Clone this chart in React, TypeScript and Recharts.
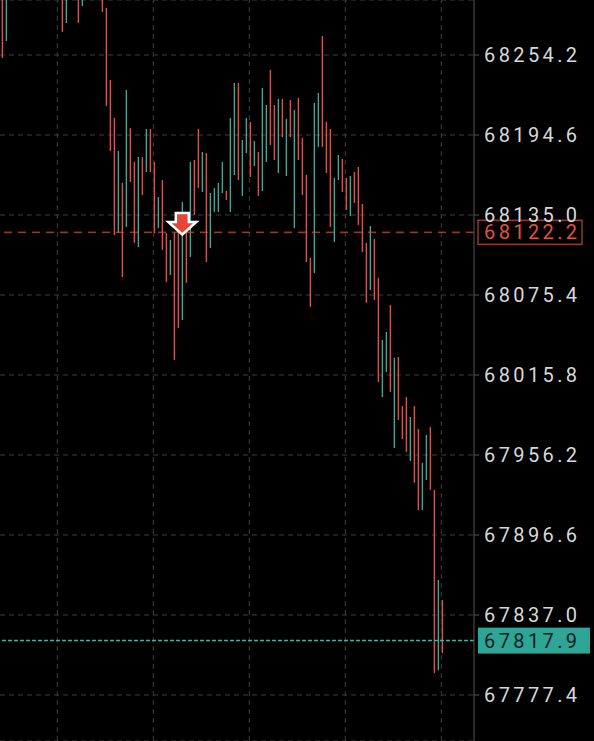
import React from 'react';
import { ComposedChart, Bar, XAxis, YAxis, CartesianGrid, ReferenceLine, ReferenceDot } from 'recharts';

// Candle high / low values and direction (1 = up/teal, 0 = down/red)
const highs = [
  68306.4, 68302.6, 68338, 68345, 68352, 68340, 68330, 68336, 68348, 68350,
  68342, 68334, 68326, 68329, 68337, 68318, 68310, 68326, 68322, 68315,
  68312, 68325, 68330, 68328, 68320, 68318, 68289.2, 68235.6, 68207.3, 68182.7,
  68158.9, 68228.2, 68199.8, 68174.5, 68178.2, 68178.2, 68199.1, 68199.1, 68174.5, 68148.4,
  68161.1, 68121.6, 68116.4, 68121.6, 68121.6, 68144.7, 68121.6, 68174.5, 68176.0, 68199.1,
  68182.0, 68181.2, 68151.4, 68155.1, 68158.9, 68174.5, 68152.9, 68207.3, 68233.4, 68233.4,
  68190.9, 68207.3, 68204.3, 68190.2, 68182.0, 68229.6, 68217.0, 68243.1, 68217.0, 68221.4,
  68221.4, 68206.6, 68220.7, 68213.2, 68222.2, 68192.4, 68164.8, 68103.0, 68218.5, 68225.9,
  68268.4, 68204.3, 68199.1, 68162.6, 68179.7, 68176.8, 68162.6, 68164.1, 68167.1, 68170.8,
  68143.2, 68114.2, 68126.8, 68117.1, 68088.1, 68041.9, 68047.9, 68068.0, 68028.5, 68029.2,
  67992.7, 67999.4, 67984.5, 67992.7, 67975.6, 67950.3, 67971.1, 67977.1, 67930.2, 67863.1,
  67848.2,
];
const lows = [
  68252.0, 68264.7, 68312, 68318, 68322, 68310, 68305, 68308, 68315, 68320,
  68316, 68306, 68301, 68303, 68309, 68271.4, 68278.1, 68302, 68300, 68278.1,
  68290.7, 68303, 68306, 68304, 68301, 68286.3, 68216.2, 68182.7, 68120.1, 68121.6,
  68088.8, 68126.1, 68159.6, 68114.2, 68111.2, 68149.9, 68167.0, 68167.0, 68121.6, 68125.3,
  68109.0, 68085.1, 68090.3, 68027.0, 68050.8, 68056.8, 68084.4, 68103.7, 68135.0, 68155.2,
  68152.2, 68100.0, 68110.4, 68137.3, 68137.3, 68151.4, 68146.2, 68137.3, 68164.8, 68161.1,
  68149.2, 68181.2, 68163.3, 68171.5, 68149.2, 68152.9, 68174.5, 68187.2, 68176.0, 68166.3,
  68193.1, 68164.1, 68193.1, 68125.3, 68176.0, 68149.9, 68100.0, 68066.5, 68091.8, 68185.7,
  68185.7, 68166.3, 68126.1, 68114.9, 68161.1, 68152.2, 68138.8, 68134.3, 68143.9, 68127.6,
  68107.5, 68069.5, 68079.2, 68071.7, 68010.6, 67999.4, 68018.1, 68003.2, 67961.4, 67982.3,
  67968.1, 67958.5, 67951.8, 67935.4, 67915.2, 67915.2, 67937.6, 67930.2, 67793.8, 67796.0,
  67808.7,
];
const upFlags = [
  0, 1, 1, 0, 1, 0, 0, 1, 1, 0,
  1, 0, 0, 1, 0, 0, 1, 0, 1, 0,
  1, 0, 1, 0, 1, 0, 0, 0, 0, 1,
  0, 1, 0, 0, 1, 0, 1, 0, 0, 1,
  0, 0, 1, 0, 0, 1, 0, 1, 0, 0,
  1, 0, 1, 1, 1, 1, 0, 1, 1, 0,
  1, 1, 0, 1, 0, 1, 1, 0, 0, 1,
  0, 1, 0, 1, 0, 0, 0, 0, 1, 1,
  0, 0, 0, 1, 1, 0, 0, 1, 0, 0,
  0, 0, 1, 0, 0, 1, 1, 0, 1, 0,
  0, 0, 1, 0, 0, 1, 1, 0, 0, 1,
  0,
];

const yTicks = [67777.4, 67837.0, 67896.6, 67956.2, 68015.8, 68075.4, 68135.0, 68194.6, 68254.2];
const timeGridIndices = [13.75, 37.75, 61.75, 85.75, 109.75];
const markPrice = 68122.2;
const lastPrice = 67817.9;
const signalIndex = 45;
const signalPrice = 68120.1;

const yDomain: [number, number] = [67743.1, 68295.2];
const xDomain: [number, number] = [-0.575, 117.925];

const UP = '#55b5a6';
const DOWN = '#e2635d';
const GRID = '#3e3e3e';
const FONT = 'Roboto, "DejaVu Sans", sans-serif';
const FS = 20;
const LS = 3.4;

const data = highs.map((h, i) => ({ i, range: [lows[i], h], up: upFlags[i] === 1 }));

function CandleShape(props: any) {
  const { x, y, width, height, payload } = props;
  if (x == null || y == null || !payload) return null;
  const cx = x + width / 2;
  const top = Math.min(y, y + height);
  const h = Math.max(Math.abs(height), 1);
  return <rect x={cx - 0.6} y={top} width={1.2} height={h} fill={payload.up ? UP : DOWN} />;
}

function YTick(props: any) {
  const { x, y, payload } = props;
  return (
    <text x={x} y={y} dy="0.36em" fill="#d8d8d8" fontSize={FS} fontFamily={FONT} letterSpacing={LS} textAnchor="start">
      {Number(payload.value).toFixed(1)}
    </text>
  );
}

function PriceTag(props: any) {
  const { viewBox, text, kind } = props;
  if (!viewBox) return null;
  const left = viewBox.x + viewBox.width + 4;
  const cy = viewBox.y;
  if (kind === 'red') {
    return (
      <g>
        <rect x={left} y={cy - 12} width={104} height={24} fill="#000" stroke="#d9513f" strokeWidth={1} />
        <text x={left + 6} y={cy} dy="0.36em" fill="#e0523f" fontSize={FS} fontFamily={FONT} letterSpacing={LS}>{text}</text>
      </g>
    );
  }
  return (
    <g>
      <rect x={left} y={cy - 13} width={112} height={26} fill="#2ea596" />
      <text x={left + 6} y={cy} dy="0.36em" fill="#0b2421" fontSize={FS} fontFamily={FONT} letterSpacing={LS}>{text}</text>
    </g>
  );
}

function SignalArrow(props: any) {
  const { cx, cy } = props;
  if (cx == null || cy == null) return null;
  const d = `M ${cx - 6.5} ${cy - 22} L ${cx + 6.5} ${cy - 22} L ${cx + 6.5} ${cy - 13} L ${cx + 14} ${cy - 13} L ${cx} ${cy - 0.5} L ${cx - 14} ${cy - 13} L ${cx - 6.5} ${cy - 13} Z`;
  return <path d={d} fill="#e8453a" stroke="#ffffff" strokeWidth={2.5} strokeLinejoin="miter" />;
}

export default function App() {
  return (
    <div style={{ position: 'fixed', left: 0, top: 0, width: 594, height: 741, background: '#000' }}>
      <ComposedChart width={594} height={741} data={data} margin={{ top: 0, right: 0, bottom: 0, left: 0 }}>
        <CartesianGrid vertical={false} stroke={GRID} strokeDasharray="5 4" />
        <XAxis dataKey="i" type="number" domain={xDomain} allowDataOverflow hide />
        <YAxis
          orientation="right"
          width={120}
          domain={yDomain}
          allowDataOverflow
          ticks={yTicks}
          interval={0}
          tick={<YTick />}
          tickSize={5}
          tickMargin={5}
          axisLine={{ stroke: '#555' }}
          tickLine={{ stroke: '#555' }}
        />
        {timeGridIndices.map((v) => (
          <ReferenceLine key={v} x={v} stroke={GRID} strokeDasharray="5 4" />
        ))}
        <Bar dataKey="range" barSize={2} shape={<CandleShape />} isAnimationActive={false} />
        <ReferenceLine
          y={markPrice}
          stroke="#d9513f"
          strokeDasharray="8 6"
          ifOverflow="visible"
          label={<PriceTag kind="red" text={markPrice.toFixed(1)} />}
        />
        <ReferenceLine
          y={lastPrice}
          stroke="#3fb0a1"
          strokeWidth={1.5}
          strokeDasharray="4 2"
          ifOverflow="visible"
          label={<PriceTag kind="teal" text={lastPrice.toFixed(1)} />}
        />
        <ReferenceDot x={signalIndex} y={signalPrice} r={0} shape={<SignalArrow />} ifOverflow="visible" />
      </ComposedChart>
    </div>
  );
}
